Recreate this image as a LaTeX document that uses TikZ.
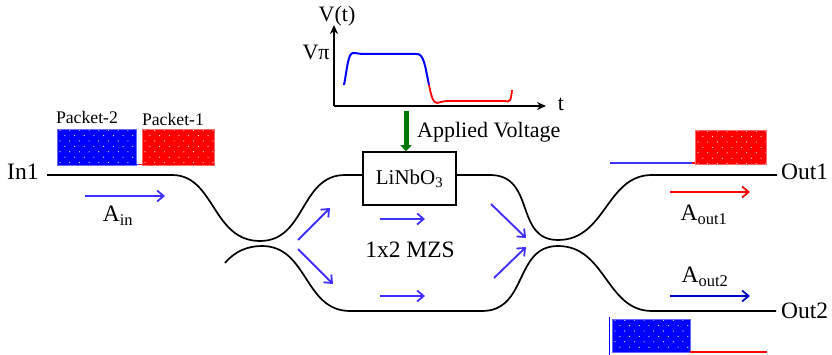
\documentclass[tikz,border=0pt]{standalone}
\usepackage{fontspec}
\setmainfont{Liberation Serif}
\usetikzlibrary{arrows.meta}
\definecolor{flow}{RGB}{64,48,255}
\definecolor{darkblue}{RGB}{0,0,205}
\definecolor{volt}{RGB}{0,120,0}
\tikzset{
  guide/.style={black,line width=1.7pt},
  flowarrow/.style={line width=1.9pt,-{Straight Barb[length=6.5pt,width=11pt,line width=1.8pt]}},
  axis/.style={black,line width=1.5pt,-{Stealth[length=9pt,width=8pt]}},
  lab/.style={inner sep=0pt,font=\fontsize{23.5}{25}\selectfont},
  smalllab/.style={inner sep=0pt,font=\fontsize{17.7}{19}\selectfont},
  midlab/.style={inner sep=0pt,font=\fontsize{22}{24}\selectfont},
  whitedot/.style={fill=white,draw=none}
}
\newcommand{\packetbox}[5]{% x0,y0,x1,y1,color
  \fill[#5] (#1,#2) rectangle (#3,#4);
  \begin{scope}
    \clip (#1,#2) rectangle (#3,#4);
    \foreach \r in {0,...,6}{
      \foreach \c in {0,...,8}{
        \pgfmathsetmacro{\px}{#1+3+9.7*\c+4.85*mod(\r,2)}
        \pgfmathsetmacro{\py}{#2+1.2+5.4*\r}
        \fill[whitedot] (\px,\py) circle (0.6pt);
      }
    }
  \end{scope}
  \draw[#5!60!white,line width=0.7pt] (#1,#2) rectangle (#3,#4);
}
\begin{document}
\begin{tikzpicture}[x=1pt,y=-1pt]
\useasboundingbox (0,0) rectangle (832,355);
% labels
\node[lab,anchor=west] (in1) at (7,172) {In1};
\node[lab,anchor=west] (out1) at (781,172) {Out1};
\node[lab,anchor=west] (out2) at (781,311) {Out2};
\node[draw,line width=1.5pt,minimum width=93pt,minimum height=53pt,inner sep=0pt,font=\fontsize{21}{23}\selectfont] (mod) at (409.5,178.5) {LiNbO\textsubscript{3}};
\node[lab] (mzs) at (410,250) {1x2 MZS};
\node[midlab,anchor=west] (applied) at (417,132) {Applied Voltage};
\node[smalllab] (p2) at (87,117) {Packet-2};
\node[smalllab] (p1) at (173,119) {Packet-1};
\node[lab] (ain) at (118,216) {A\textsubscript{in}};
\node[lab] (aout1) at (704,215) {A\textsubscript{out1}};
\node[lab] (aout2) at (705,277) {A\textsubscript{out2}};
\node[midlab] (vt) at (337,16) {V(t)};
\node[midlab] (vpi) at (316,52) {Vπ};
\node[midlab] (tlab) at (561,104) {t};
% waveguides
\coordinate (lowstart) at (225,263);
\coordinate (modw) at (mod.west |- 0,175);
\coordinate (mode) at (mod.east |- 0,175);
\draw[guide] (47,175) -- (172,175) .. controls (215,175) and (212,241) .. (260,241)
  .. controls (306,241) and (300,175) .. (345,175) -- (modw);
\draw[guide] (mode) -- (490,175) .. controls (536,175) and (514,240) .. (558,240)
  .. controls (606,240) and (606,175) .. (652,175) -- (777,175);
\draw[guide] (lowstart) .. controls (235,251) and (248,246) .. (262,246)
  .. controls (308,246) and (304,311) .. (350,311) -- (482,311)
  .. controls (528,311) and (514,246) .. (558,246)
  .. controls (606,246) and (606,311) .. (652,311) -- (776,311);
% flow arrows
\draw[flow,flowarrow] (85,196) -- (165,196);
\draw[flow,flowarrow] (298,240) -- (330,208);
\draw[flow,flowarrow] (298,249) -- (333,284);
\draw[flow,flowarrow] (380,219) -- (425,219);
\draw[flow,flowarrow] (380,296) -- (425,296);
\draw[flow,flowarrow] (491,204) -- (526,238);
\draw[flow,flowarrow] (494,278) -- (526,247);
\draw[red,flowarrow] (670,192) -- (750,192);
\draw[darkblue,flowarrow] (670,296) -- (750,296);
% packets
\packetbox{57}{129}{136}{165}{blue}
\packetbox{142}{129}{214}{165}{red}
\draw[flow,line width=1pt] (136,165) -- (139,165);
\draw[red,line width=1pt] (139,165) -- (142,165);
\packetbox{695}{130}{766}{164}{red}
\draw[flow,line width=1.8pt] (610,163) -- (692,163);
\draw[red,line width=1.5pt] (692,163) -- (695,163);
\packetbox{612}{319}{690}{352}{blue}
\draw[blue,line width=1.2pt] (609.5,317) -- (609.5,355);
\draw[red,line width=1.8pt] (690,352) -- (767,352);
% plot
\draw[axis] (334,106) -- (334,25);
\draw[axis] (334,106) -- (546,106);
\draw[blue,line width=2pt] (344,85) .. controls (347,70) and (348,53) .. (353,53)
  .. controls (358,53) and (358,54) .. (365,54) -- (416,54)
  .. controls (424,53) and (425,66) .. (429,85);
\draw[red,line width=1.8pt] (429,85) .. controls (431,95) and (433,103) .. (437,103)
  .. controls (440,103) and (441,101) .. (449,101) -- (505,101)
  .. controls (510,103) and (511,100) .. (512,90);
% applied voltage
\coordinate (voltstart) at (406,111);
\draw[volt,line width=5pt,-{Triangle[length=6pt,width=11pt]}] (voltstart) -- (mod.north -| voltstart);
\end{tikzpicture}
\end{document}
